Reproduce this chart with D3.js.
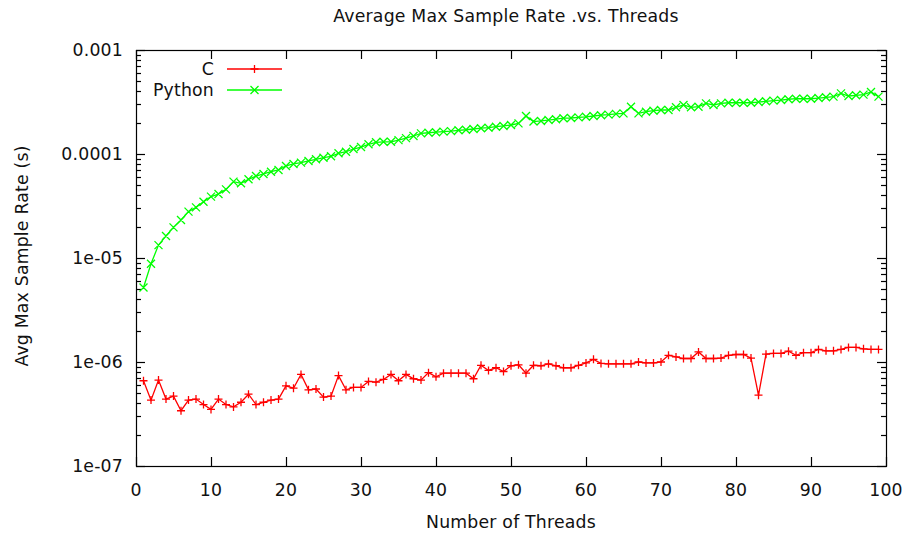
<!DOCTYPE html>
<html>
<head>
<meta charset="utf-8">
<script src="https://cdn.jsdelivr.net/npm/d3@7/dist/d3.min.js"></script>
<style>
  html, body { margin: 0; padding: 0; background: #fff; }
  svg { display: block; }
  text { font-family: "DejaVu Sans", sans-serif; fill: #111; letter-spacing: 0.2px; }
</style>
</head>
<body>
<svg id="chart" width="909" height="533"></svg>
<script>
const title = "Average Max Sample Rate .vs. Threads";
const xLabel = "Number of Threads";
const yLabel = "Avg Max Sample Rate (s)";
const seriesNames = ["C", "Python"];

const threads = [1,2,3,4,5,6,7,8,9,10,11,12,13,14,15,16,17,18,19,20,
  21,22,23,24,25,26,27,28,29,30,31,32,33,34,35,36,37,38,39,40,
  41,42,43,44,45,46,47,48,49,50,51,52,53,54,55,56,57,58,59,60,
  61,62,63,64,65,66,67,68,69,70,71,72,73,74,75,76,77,78,79,80,
  81,82,83,84,85,86,87,88,89,90,91,92,93,94,95,96,97,98,99];

const cValues = [
  6.6e-7,4.3e-7,6.7e-7,4.4e-7,4.7e-7,3.4e-7,4.3e-7,4.4e-7,3.9e-7,3.5e-7,
  4.4e-7,3.9e-7,3.7e-7,4.1e-7,4.9e-7,3.9e-7,4.1e-7,4.3e-7,4.4e-7,5.9e-7,
  5.6e-7,7.6e-7,5.4e-7,5.5e-7,4.6e-7,4.7e-7,7.4e-7,5.4e-7,5.7e-7,5.7e-7,
  6.5e-7,6.4e-7,6.8e-7,7.6e-7,6.6e-7,7.6e-7,6.9e-7,6.7e-7,7.9e-7,7.2e-7,
  7.8e-7,7.8e-7,7.8e-7,7.8e-7,6.9e-7,9.3e-7,8.3e-7,8.8e-7,8.1e-7,9.2e-7,
  9.4e-7,7.8e-7,9.3e-7,9.2e-7,9.6e-7,9.2e-7,8.8e-7,8.8e-7,9.3e-7,9.8e-7,
  1.06e-6,9.7e-7,9.6e-7,9.6e-7,9.6e-7,9.6e-7,1.0e-6,9.8e-7,9.8e-7,1.0e-6,
  1.16e-6,1.12e-6,1.08e-6,1.08e-6,1.25e-6,1.08e-6,1.08e-6,1.09e-6,1.16e-6,1.18e-6,
  1.18e-6,1.09e-6,4.8e-7,1.19e-6,1.21e-6,1.21e-6,1.27e-6,1.16e-6,1.23e-6,1.23e-6,
  1.32e-6,1.28e-6,1.28e-6,1.32e-6,1.38e-6,1.38e-6,1.34e-6,1.32e-6,1.32e-6];

const pythonValues = [
  5.2e-6,8.8e-6,1.33e-5,1.63e-5,1.97e-5,2.32e-5,2.79e-5,3.07e-5,3.48e-5,3.89e-5,
  4.12e-5,4.57e-5,5.42e-5,5.23e-5,5.71e-5,6.14e-5,6.43e-5,6.76e-5,7.02e-5,7.67e-5,
  8.02e-5,8.26e-5,8.57e-5,8.89e-5,9.21e-5,9.51e-5,1.016e-4,1.052e-4,1.117e-4,1.167e-4,
  1.239e-4,1.296e-4,1.31e-4,1.31e-4,1.36e-4,1.42e-4,1.49e-4,1.58e-4,1.60e-4,1.62e-4,
  1.64e-4,1.66e-4,1.69e-4,1.71e-4,1.74e-4,1.77e-4,1.79e-4,1.83e-4,1.86e-4,1.90e-4,
  1.97e-4,2.32e-4,2.05e-4,2.08e-4,2.12e-4,2.16e-4,2.21e-4,2.22e-4,2.25e-4,2.28e-4,
  2.32e-4,2.36e-4,2.39e-4,2.43e-4,2.46e-4,2.85e-4,2.46e-4,2.55e-4,2.61e-4,2.65e-4,
  2.65e-4,2.81e-4,2.96e-4,2.81e-4,2.85e-4,3.07e-4,2.96e-4,3.07e-4,3.11e-4,3.11e-4,
  3.11e-4,3.11e-4,3.16e-4,3.21e-4,3.26e-4,3.30e-4,3.36e-4,3.40e-4,3.40e-4,3.40e-4,
  3.45e-4,3.51e-4,3.56e-4,3.83e-4,3.61e-4,3.67e-4,3.72e-4,3.95e-4,3.56e-4];

const xTicks = [0,10,20,30,40,50,60,70,80,90,100];
const xTickLabels = ["0","10","20","30","40","50","60","70","80","90","100"];
const yTicks = [1e-7,1e-6,1e-5,1e-4,1e-3];
const yTickLabels = ["1e-07","1e-06","1e-05","0.0001","0.001"];

const colors = {C: "#ff0000", Python: "#00ff00"};

const plotL = 136, plotR = 886, plotT = 50, plotB = 466;
const fontSize = 17.3;

const svg = d3.select("#chart");
const x = d3.scaleLinear().domain([0, 100]).range([plotL, plotR]);
const y = d3.scaleLog().domain([1e-7, 1e-3]).range([plotB, plotT]);

svg.append("rect")
  .attr("x", plotL + 0.5).attr("y", plotT + 0.5)
  .attr("width", plotR - plotL).attr("height", plotB - plotT)
  .attr("fill", "none").attr("stroke", "#000").attr("stroke-width", 1.2);

const tickG = svg.append("g").attr("stroke", "#000").attr("stroke-width", 1.2);
const majorLen = 9, minorLen = 5;
xTicks.forEach(v => {
  const px = Math.round(x(v)) + 0.5;
  tickG.append("line").attr("x1", px).attr("x2", px).attr("y1", plotB).attr("y2", plotB - majorLen);
  tickG.append("line").attr("x1", px).attr("x2", px).attr("y1", plotT).attr("y2", plotT + majorLen);
});
const allY = y.ticks(40);
allY.forEach(v => {
  const isMajor = yTicks.some(t => Math.abs(Math.log10(t) - Math.log10(v)) < 1e-9);
  const len = isMajor ? majorLen : minorLen;
  const py = Math.round(y(v)) + 0.5;
  tickG.append("line").attr("x1", plotL).attr("x2", plotL + len).attr("y1", py).attr("y2", py);
  tickG.append("line").attr("x1", plotR).attr("x2", plotR - len).attr("y1", py).attr("y2", py);
});

svg.append("g").selectAll("text").data(xTicks).join("text")
  .attr("x", d => x(d)).attr("y", 496)
  .attr("text-anchor", "middle").attr("font-size", fontSize)
  .text((d, i) => xTickLabels[i]);
svg.append("g").selectAll("text").data(yTicks).join("text")
  .attr("x", 123).attr("y", d => y(d)).attr("dy", "0.36em")
  .attr("text-anchor", "end").attr("font-size", fontSize)
  .text((d, i) => yTickLabels[i]);

svg.append("text").attr("x", 506).attr("y", 22).attr("text-anchor", "middle")
  .attr("font-size", fontSize).text(title);
svg.append("text").attr("x", 511).attr("y", 528).attr("text-anchor", "middle")
  .attr("font-size", fontSize).text(xLabel);
svg.append("text").attr("transform", "translate(28,256) rotate(-90)")
  .attr("text-anchor", "middle").attr("font-size", fontSize).text(yLabel);

const series = [
  {name: "C", values: cValues, marker: "plus"},
  {name: "Python", values: pythonValues, marker: "cross"}
];
const line = d3.line().x(d => x(d[0])).y(d => y(d[1]));
const ms = 4;
function markerPath(type, cx, cy) {
  if (type === "plus") return `M${cx - ms},${cy}H${cx + ms}M${cx},${cy - ms}V${cy + ms}`;
  return `M${cx - ms},${cy - ms}L${cx + ms},${cy + ms}M${cx - ms},${cy + ms}L${cx + ms},${cy - ms}`;
}
series.forEach(s => {
  const pts = threads.map((t, i) => [t, s.values[i]]);
  const g = svg.append("g");
  g.append("path").attr("d", line(pts)).attr("fill", "none")
    .attr("stroke", colors[s.name]).attr("stroke-width", 1.3);
  g.append("path").attr("d", pts.map(p => markerPath(s.marker, x(p[0]), y(p[1]))).join(""))
    .attr("fill", "none").attr("stroke", colors[s.name]).attr("stroke-width", 1.3);
});

const legY = [69, 90];
series.forEach((s, i) => {
  svg.append("text").attr("x", 214).attr("y", legY[i]).attr("dy", "0.36em")
    .attr("text-anchor", "end").attr("font-size", fontSize).text(s.name);
  svg.append("line").attr("x1", 227).attr("x2", 282).attr("y1", legY[i]).attr("y2", legY[i])
    .attr("stroke", colors[s.name]).attr("stroke-width", 1.3);
  svg.append("path").attr("d", markerPath(s.marker, 254.5, legY[i]))
    .attr("stroke", colors[s.name]).attr("stroke-width", 1.3).attr("fill", "none");
});
</script>
</body>
</html>
